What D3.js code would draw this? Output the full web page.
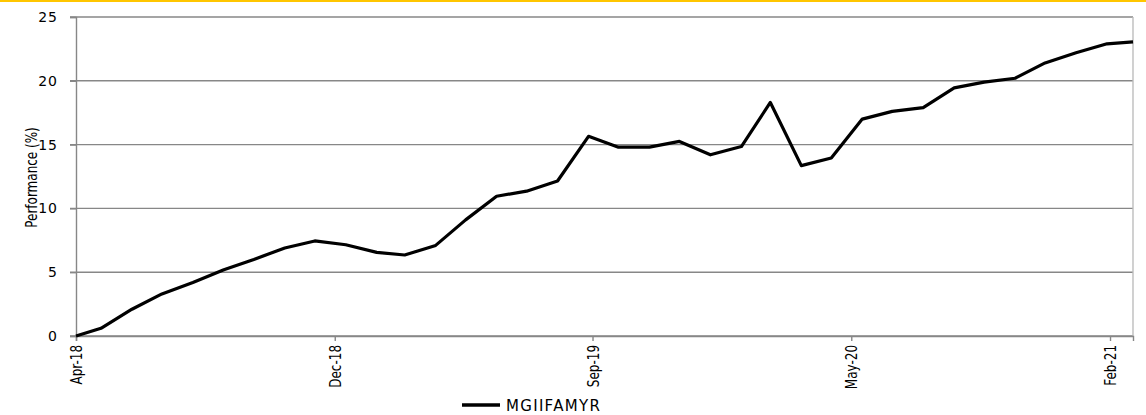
<!DOCTYPE html>
<html>
<head>
<meta charset="utf-8">
<script src="https://cdn.jsdelivr.net/npm/d3@7"></script>
<style>
  body { margin: 0; background: #fff; }
  svg { display: block; }
  .ytick text { font-family: "DejaVu Sans", Verdana, sans-serif; font-size: 14px; letter-spacing: 1px; fill: #000; }
  .xtick text, .ytitle { font-family: "DejaVu Sans", sans-serif; font-size: 16px; fill: #000; }
  .legend text { font-family: "DejaVu Sans", Verdana, sans-serif; font-size: 15px; letter-spacing: 1.3px; fill: #000; }
</style>
</head>
<body>
<div id="chart"></div>
<script>
// month-end series, first point is the inception date
const dates = [
  "2018-04-05","2018-04-30","2018-05-31","2018-06-30","2018-07-31","2018-08-31","2018-09-30","2018-10-31","2018-11-30","2018-12-31",
  "2019-01-31","2019-02-28","2019-03-31","2019-04-30","2019-05-31","2019-06-30","2019-07-31","2019-08-31","2019-09-30","2019-10-31",
  "2019-11-30","2019-12-31","2020-01-31","2020-02-29","2020-03-31","2020-04-30","2020-05-31","2020-06-30","2020-07-31","2020-08-31",
  "2020-09-30","2020-10-31","2020-11-30","2020-12-31","2021-01-31","2021-02-26"
];
const values = [
  0, 0.6, 2.1, 3.3, 4.2, 5.2, 6.0, 6.9, 7.45, 7.15,
  6.55, 6.35, 7.1, 9.1, 10.95, 11.35, 12.15, 15.65, 14.8, 14.8,
  15.25, 14.2, 14.85, 18.3, 13.35, 13.95, 17.0, 17.6, 17.9, 19.45,
  19.9, 20.2, 21.4, 22.2, 22.9, 23.05
];
const seriesName = "MGIIFAMYR";
const yTicks = [0, 5, 10, 15, 20, 25];
const xTickDates = ["2018-04-05", "2018-12-20", "2019-09-04", "2020-05-20", "2021-02-03"];

const W = 1146, H = 415;
const margin = {top: 17, right: 13, bottom: 79, left: 76};
const parse = d3.utcParse("%Y-%m-%d");
const fmt = d3.utcFormat("%b-%y");
const narrow = 0.75; // squeeze for the condensed label font

const data = dates.map((d, i) => ({date: parse(d), value: values[i]}));

const svg = d3.select("#chart").append("svg")
  .attr("width", W)
  .attr("height", H);

// yellow rule at the top
svg.append("rect")
  .attr("x", 0).attr("y", 0)
  .attr("width", W).attr("height", 2)
  .attr("fill", "#ffc600");

const x = d3.scaleUtc()
  .domain(d3.extent(data, d => d.date))
  .range([margin.left, W - margin.right]);
const y = d3.scaleLinear()
  .domain([0, 25])
  .range([H - margin.bottom, margin.top]);

// gridlines
svg.append("g")
  .selectAll("line")
  .data(yTicks)
  .join("line")
  .attr("x1", margin.left - 6)
  .attr("x2", W - margin.right)
  .attr("y1", d => y(d))
  .attr("y2", d => y(d))
  .attr("stroke", "#878787")
  .attr("stroke-width", 1.4);

// right border
svg.append("line")
  .attr("x1", W - margin.right).attr("x2", W - margin.right)
  .attr("y1", y(25)).attr("y2", y(0))
  .attr("stroke", "#bdbdbd").attr("stroke-width", 1.4);

// y axis
const yAxis = svg.append("g")
  .attr("class", "ytick")
  .attr("transform", `translate(${margin.left},0)`)
  .call(d3.axisLeft(y).tickValues(yTicks).tickSize(6).tickPadding(12));
yAxis.select(".domain").attr("stroke", "#878787").attr("stroke-width", 1.4);
yAxis.selectAll(".tick line").attr("stroke", "#878787").attr("stroke-width", 1.4);

svg.append("text")
  .attr("class", "ytitle")
  .attr("transform", `translate(37,${(y(0) + y(25)) / 2 + 1}) rotate(-90) scale(${narrow},1)`)
  .attr("text-anchor", "middle")
  .text("Performance (%)");

// x axis
const xAxis = svg.append("g")
  .attr("class", "xtick")
  .attr("transform", `translate(0,${y(0)})`)
  .call(d3.axisBottom(x).tickValues(xTickDates.map(parse)).tickFormat(fmt).tickSize(5).tickPadding(8));
xAxis.select(".domain").attr("stroke", "#878787").attr("stroke-width", 1.4);
xAxis.selectAll(".tick line").attr("stroke", "#878787").attr("stroke-width", 1.4);
xAxis.selectAll(".tick text")
  .attr("transform", `rotate(-90) scale(${narrow},1)`)
  .attr("text-anchor", "end")
  .attr("x", -9 / narrow)
  .attr("y", 0)
  .attr("dy", "0.35em");

// series line
const line = d3.line()
  .x(d => x(d.date))
  .y(d => y(d.value));

svg.append("path")
  .datum(data)
  .attr("fill", "none")
  .attr("stroke", "#000")
  .attr("stroke-width", 3.2)
  .attr("stroke-linejoin", "round")
  .attr("d", line);

// legend
const legend = svg.append("g").attr("class", "legend");
legend.append("line")
  .attr("x1", 462).attr("x2", 500)
  .attr("y1", 405).attr("y2", 405)
  .attr("stroke", "#000").attr("stroke-width", 3.5);
legend.append("text")
  .attr("x", 506).attr("y", 411)
  .text(seriesName);
</script>
</body>
</html>
